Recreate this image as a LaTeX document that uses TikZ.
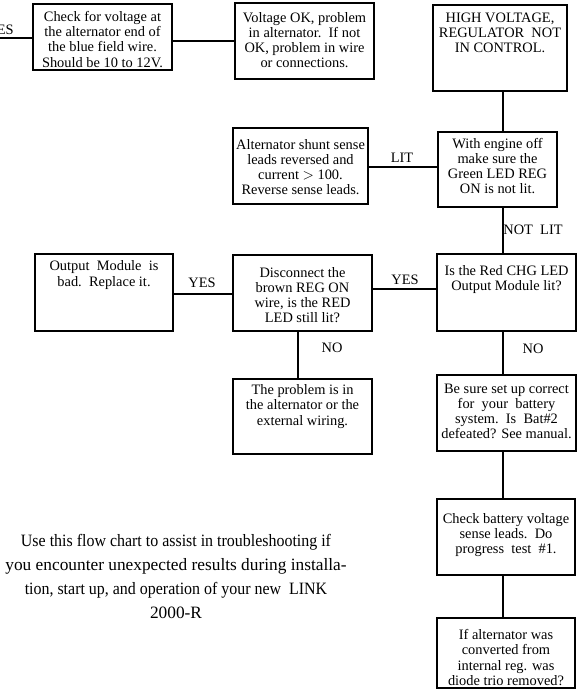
\documentclass[tikz,border=0pt]{standalone}
\usepackage{fontspec}
\usepackage{graphicx}
\setmainfont{Liberation Serif}
\begin{document}
\begin{tikzpicture}[x=0.75pt,y=-0.75pt,
  box/.style={draw,line width=1.1pt,rectangle,inner sep=0pt},
  txt/.style={align=center,inner sep=0pt,font=\fontsize{10.8pt}{11.3pt}\selectfont},
  lbl/.style={inner sep=0pt,font=\fontsize{10.8pt}{11.3pt}\selectfont},
  conn/.style={line width=1.1pt}]
\useasboundingbox (0,0) rectangle (586,696);
% boxes
\node[box,minimum width=104.25pt,minimum height=49.5pt] (b1) at (102.5,37) {};
\node[box,minimum width=104.25pt,minimum height=57pt] (b2) at (304.5,41) {};
\node[box,minimum width=100.5pt,minimum height=64.5pt] (b3) at (500,48) {};
\node[box,minimum width=89.25pt,minimum height=56.25pt] (b4) at (497.5,169.5) {};
\node[box,minimum width=101.25pt,minimum height=57pt] (b5) at (300.5,166) {};
\node[box,minimum width=104.25pt,minimum height=57.75pt] (b6) at (506.5,292.5) {};
\node[box,minimum width=104.25pt,minimum height=57pt] (b7) at (302.5,293) {};
\node[box,minimum width=103.5pt,minimum height=57.75pt] (b8) at (104,292.5) {};
\node[box,minimum width=104.25pt,minimum height=56.25pt] (b9) at (302.5,416.5) {};
\node[box,minimum width=104.25pt,minimum height=57pt] (b10) at (506.5,413) {};
\node[box,minimum width=103.5pt,minimum height=57pt] (b11) at (506,537) {};
\node[box,minimum width=103.5pt,minimum height=52.5pt] (b12) at (506,653) {};
% texts
\node[txt] (t1) at (102.5,39.5) {Check for voltage at\\the alternator end of\\the blue field wire.\\Should be 10 to 12V.};
\node[txt] (t2) at (304.5,40.5) {Voltage OK, problem\\in alternator.\ \ If not\\OK, problem in wire\\or connections.};
\node[txt] (t3) at (500,33) {HIGH VOLTAGE,\\REGULATOR\ \ NOT\\IN CONTROL.};
\node[txt] (t4) at (497.5,166) {With engine off\\make sure the\\Green LED REG\\ON is not lit.};
\node[txt] (t5) at (300.5,167) {Alternator shunt sense\\leads reversed and\\current $>$ 100.\\Reverse sense leads.};
\node[txt] (t6) at (506.5,279.5) {Is the Red CHG LED\\Output Module lit?};
\node[txt] (t7) at (302.5,295) {Disconnect the\\brown REG ON\\wire, is the RED\\LED still lit?};
\node[txt] (t8) at (104,275) {Output\ \ Module\ \ is\\bad.\ \ Replace it.};
\node[txt] (t9) at (302.5,406.5) {The problem is in\\the alternator or the\\external wiring.};
\node[txt] (t10) at (506.5,411) {Be sure set up correct\\for\ \ your\ \ battery\\system.\ \ Is\ \ Bat\#2\\defeated? See manual.};
\node[txt] (t11) at (506,535) {Check battery voltage\\sense leads.\ \ Do\\progress\ \ test\ \ \#1.};
\node[txt] (t12) at (506,657.5) {If alternator was\\converted from\\internal reg. was\\diode trio removed?};
% paragraph
\node[align=center,inner sep=0pt,font=\fontsize{13pt}{18pt}\selectfont] (para) at (176,576.5)
  {\scalebox{0.92}[1]{Use this flow chart to assist in troubleshooting if}\\you encounter unexpected results during installa-\\\scalebox{0.92}[1]{tion, start up, and operation of your new\ \ LINK}\\2000-R};
% connectors
\coordinate (xr) at (503,0);
\coordinate (xm) at (298,0);
\coordinate (edge) at (0,38);
\draw[conn] (edge) -- (b1.west |- edge);
\draw[conn] (b1.east |- 0,41) -- (b2.west |- 0,41);
\draw[conn] (b3.south -| xr) -- (b4.north -| xr);
\draw[conn] (b5.east |- 0,167) -- (b4.west |- 0,167);
\draw[conn] (b4.south -| xr) -- (b6.north -| xr);
\draw[conn] (b8.east |- 0,294) -- (b7.west |- 0,294);
\draw[conn] (b7.east |- 0,289) -- (b6.west |- 0,289);
\draw[conn] (b7.south -| xm) -- (b9.north -| xm);
\draw[conn] (b6.south -| xr) -- (b10.north -| xr);
\draw[conn] (b10.south -| xr) -- (b11.north -| xr);
\draw[conn] (b11.south -| xr) -- (b12.north -| xr);
% labels
\node[lbl,anchor=east] (l1) at (14,30) {YES};
\node[lbl] (l2) at (402,158) {LIT};
\node[lbl] (l3) at (533,230) {NOT\ \ LIT};
\node[lbl] (l4) at (202,283) {YES};
\node[lbl] (l5) at (405,280) {YES};
\node[lbl] (l6) at (332,348) {NO};
\node[lbl] (l7) at (533,349) {NO};
\end{tikzpicture}
\end{document}
